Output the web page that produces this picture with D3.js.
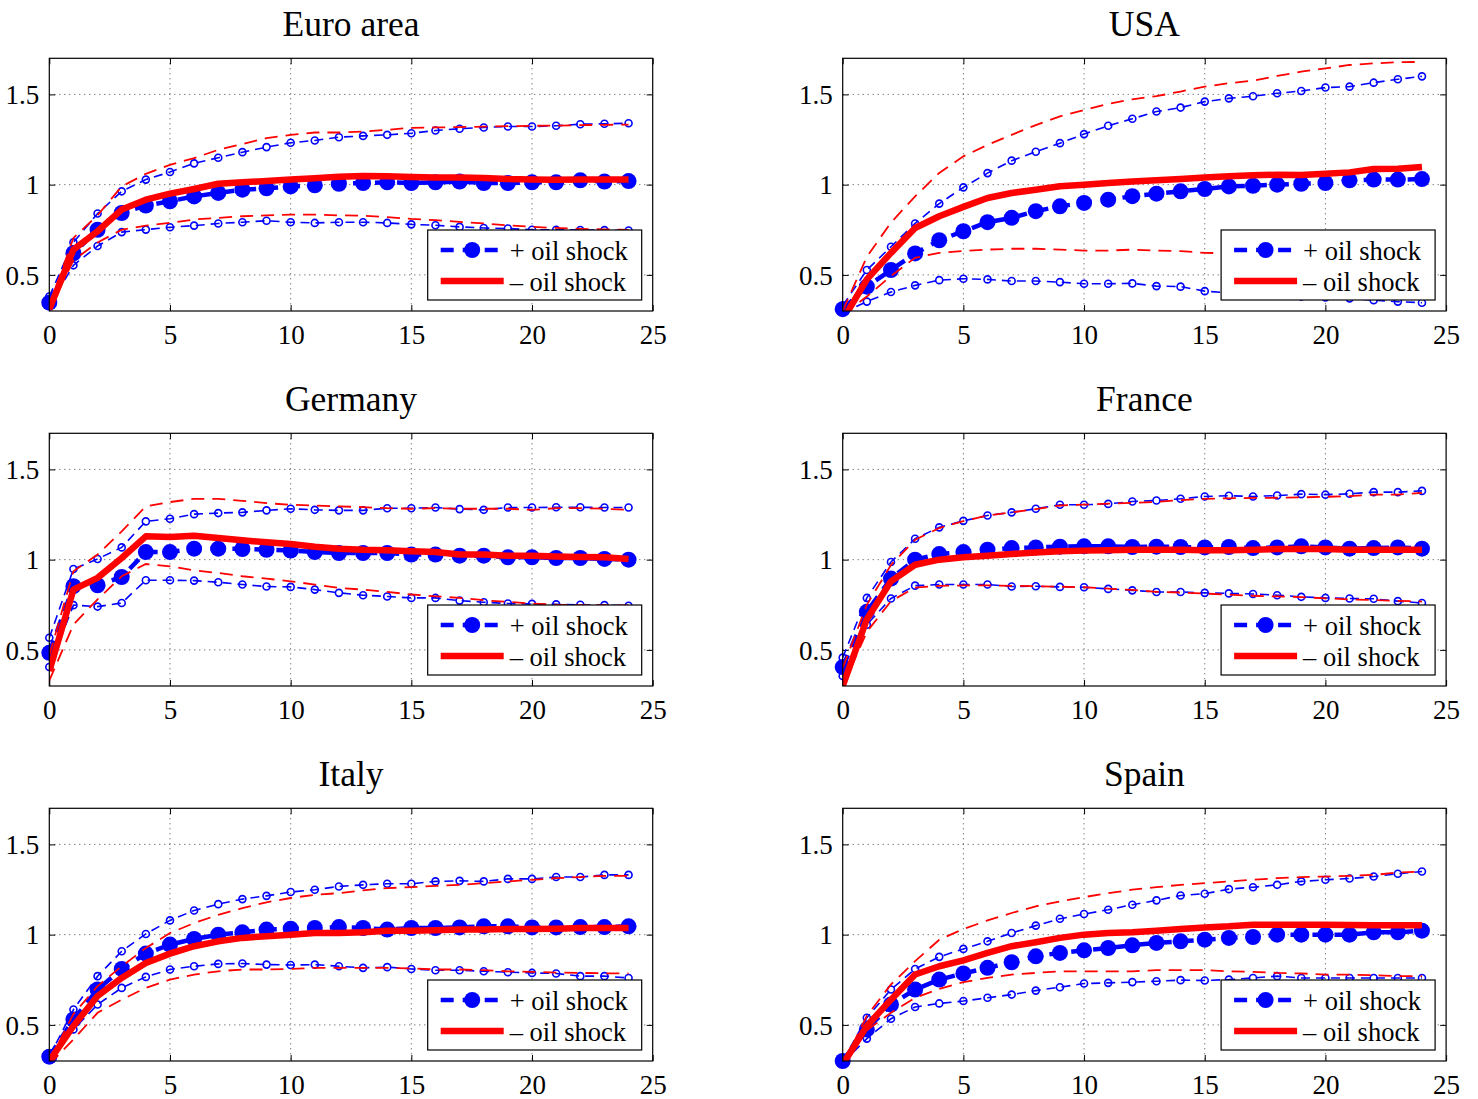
<!DOCTYPE html>
<html><head><meta charset="utf-8">
<script src="https://cdnjs.cloudflare.com/ajax/libs/d3/7.8.5/d3.min.js"></script>
<style>body{margin:0;background:#fff}svg{display:block}</style>
</head><body>
<script>
const horizon = [0,1,2,3,4,5,6,7,8,9,10,11,12,13,14,15,16,17,18,19,20,21,22,23,24];
const xTicks = [0,5,10,15,20,25];
const yTicks = [0.5,1,1.5];
const yTickLabels = ["0.5","1","1.5"];
const titles = ["Euro area","USA","Germany","France","Italy","Spain"];
const legendLabels = ["+ oil shock","\u2013 oil shock"];

// Euro area
const euroPosMid = [0.346,0.62,0.75,0.843,0.884,0.908,0.935,0.954,0.972,0.98,0.99,0.996,1.005,1.009,1.013,1.009,1.013,1.017,1.009,1.009,1.013,1.013,1.024,1.017,1.02];
const euroPosUp  = [0.38,0.68,0.84,0.963,1.028,1.07,1.118,1.149,1.18,1.208,1.232,1.245,1.263,1.27,1.276,1.285,1.30,1.31,1.317,1.322,1.322,1.326,1.335,1.337,1.34];
const euroPosLo  = [0.33,0.553,0.66,0.737,0.751,0.764,0.773,0.785,0.792,0.80,0.792,0.788,0.792,0.792,0.788,0.78,0.775,0.766,0.76,0.757,0.75,0.75,0.749,0.748,0.746];
const euroNegMid = [0.31,0.64,0.742,0.862,0.917,0.95,0.976,1.005,1.013,1.02,1.028,1.035,1.044,1.048,1.046,1.042,1.04,1.039,1.037,1.031,1.028,1.027,1.028,1.028,1.028];
const euroNegUp  = [0.33,0.705,0.83,0.99,1.06,1.11,1.147,1.193,1.225,1.258,1.276,1.289,1.289,1.294,1.304,1.315,1.317,1.319,1.321,1.324,1.326,1.327,1.33,1.331,1.333];
const euroNegLo  = [0.31,0.58,0.68,0.75,0.773,0.788,0.807,0.816,0.825,0.83,0.834,0.834,0.83,0.828,0.82,0.81,0.803,0.794,0.785,0.775,0.766,0.76,0.755,0.752,0.75];

// USA
const usaPosMid = [0.31,0.435,0.527,0.619,0.692,0.742,0.792,0.816,0.853,0.88,0.899,0.917,0.936,0.95,0.963,0.976,0.99,0.994,1.0,1.005,1.009,1.024,1.028,1.028,1.031];
const usaPosUp  = [0.33,0.527,0.656,0.785,0.895,0.985,1.064,1.133,1.182,1.23,1.28,1.326,1.365,1.405,1.427,1.46,1.478,1.49,1.506,1.519,1.538,1.543,1.565,1.584,1.60];
const usaPosLo  = [0.29,0.352,0.405,0.442,0.471,0.479,0.475,0.466,0.466,0.46,0.451,0.451,0.453,0.438,0.435,0.41,0.40,0.39,0.385,0.38,0.375,0.37,0.36,0.352,0.346];
const usaNegMid = [0.25,0.475,0.622,0.76,0.825,0.877,0.926,0.954,0.972,0.991,1.0,1.009,1.018,1.024,1.031,1.04,1.046,1.052,1.055,1.053,1.06,1.068,1.087,1.088,1.098];
const usaNegUp  = [0.30,0.60,0.79,0.935,1.065,1.157,1.22,1.276,1.33,1.378,1.414,1.447,1.473,1.49,1.516,1.543,1.562,1.576,1.602,1.626,1.644,1.663,1.672,1.678,1.68];
const usaNegLo  = [0.28,0.38,0.494,0.595,0.622,0.632,0.64,0.645,0.645,0.64,0.635,0.635,0.64,0.635,0.632,0.622,0.62,0.62,0.615,0.61,0.61,0.60,0.60,0.59,0.59];

// Germany
const gerPosMid = [0.484,0.853,0.858,0.904,1.042,1.042,1.061,1.061,1.059,1.055,1.05,1.042,1.037,1.037,1.037,1.028,1.028,1.022,1.022,1.013,1.013,1.009,1.009,1.004,1.0];
const gerPosUp  = [0.567,0.948,1.004,1.068,1.212,1.227,1.252,1.258,1.262,1.273,1.282,1.276,1.273,1.273,1.285,1.285,1.289,1.28,1.276,1.289,1.289,1.29,1.29,1.289,1.289];
const gerPosLo  = [0.405,0.748,0.74,0.76,0.886,0.886,0.884,0.875,0.862,0.851,0.849,0.834,0.816,0.803,0.796,0.788,0.788,0.773,0.764,0.757,0.755,0.752,0.75,0.748,0.745];
const gerNegMid = [0.383,0.834,0.899,1.009,1.129,1.125,1.133,1.12,1.107,1.096,1.087,1.072,1.061,1.055,1.052,1.046,1.042,1.028,1.028,1.022,1.022,1.018,1.015,1.013,1.004];
const gerNegUp  = [0.47,0.935,1.028,1.157,1.295,1.319,1.337,1.337,1.326,1.313,1.304,1.30,1.295,1.291,1.285,1.282,1.285,1.282,1.282,1.282,1.276,1.285,1.285,1.282,1.276];
const gerNegLo  = [0.33,0.64,0.78,0.908,0.976,0.963,0.941,0.926,0.908,0.895,0.88,0.862,0.843,0.834,0.821,0.807,0.797,0.788,0.775,0.766,0.757,0.751,0.748,0.748,0.746];

// France
const fraPosMid = [0.405,0.711,0.895,1.0,1.031,1.042,1.055,1.064,1.068,1.072,1.074,1.074,1.07,1.072,1.07,1.068,1.07,1.064,1.068,1.074,1.068,1.061,1.064,1.068,1.061];
const fraPosUp  = [0.457,0.788,0.987,1.116,1.179,1.215,1.245,1.262,1.282,1.304,1.304,1.309,1.322,1.328,1.337,1.35,1.354,1.35,1.355,1.363,1.36,1.365,1.374,1.374,1.381];
const fraPosLo  = [0.355,0.64,0.785,0.856,0.862,0.862,0.862,0.851,0.853,0.849,0.847,0.838,0.83,0.821,0.821,0.816,0.813,0.81,0.803,0.794,0.788,0.785,0.783,0.77,0.76];
const fraNegMid = [0.30,0.67,0.88,0.972,1.0,1.013,1.022,1.031,1.04,1.046,1.05,1.052,1.055,1.055,1.055,1.052,1.052,1.055,1.059,1.059,1.059,1.055,1.055,1.055,1.055];
const fraNegUp  = [0.40,0.75,0.97,1.11,1.175,1.213,1.245,1.262,1.28,1.30,1.305,1.31,1.315,1.32,1.33,1.337,1.34,1.342,1.343,1.345,1.348,1.352,1.36,1.36,1.37];
const fraNegLo  = [0.30,0.60,0.77,0.845,0.855,0.857,0.857,0.855,0.853,0.85,0.847,0.84,0.832,0.822,0.818,0.812,0.806,0.80,0.796,0.792,0.786,0.78,0.776,0.772,0.768];

// Italy
const itaPosMid = [0.324,0.53,0.696,0.81,0.895,0.945,0.976,1.0,1.013,1.028,1.033,1.037,1.042,1.037,1.028,1.037,1.037,1.04,1.046,1.046,1.04,1.04,1.042,1.042,1.046];
const itaPosUp  = [0.324,0.585,0.77,0.908,1.004,1.079,1.134,1.169,1.197,1.215,1.236,1.249,1.267,1.276,1.282,1.282,1.295,1.298,1.295,1.309,1.309,1.319,1.319,1.331,1.331];
const itaPosLo  = [0.31,0.475,0.613,0.705,0.766,0.807,0.825,0.838,0.84,0.834,0.832,0.834,0.825,0.816,0.82,0.81,0.803,0.803,0.797,0.792,0.788,0.785,0.77,0.77,0.76];
const itaNegMid = [0.30,0.494,0.66,0.76,0.843,0.895,0.936,0.963,0.982,0.991,1.0,1.009,1.009,1.013,1.022,1.022,1.024,1.028,1.028,1.031,1.031,1.033,1.037,1.037,1.037];
const itaNegUp  = [0.30,0.56,0.715,0.825,0.926,1.009,1.064,1.11,1.147,1.179,1.203,1.221,1.23,1.245,1.258,1.263,1.27,1.276,1.285,1.295,1.304,1.313,1.319,1.326,1.326];
const itaNegLo  = [0.28,0.42,0.567,0.64,0.705,0.751,0.779,0.797,0.807,0.807,0.81,0.816,0.816,0.816,0.816,0.813,0.807,0.807,0.803,0.797,0.794,0.79,0.788,0.786,0.785];

// Spain
const spaPosMid = [0.30,0.475,0.613,0.696,0.751,0.785,0.816,0.847,0.88,0.899,0.913,0.926,0.941,0.954,0.963,0.972,0.982,0.987,1.0,1.0,1.0,1.0,1.013,1.013,1.022];
const spaPosUp  = [0.30,0.54,0.696,0.81,0.877,0.921,0.963,1.009,1.05,1.088,1.114,1.138,1.166,1.19,1.217,1.227,1.252,1.263,1.276,1.295,1.304,1.311,1.322,1.337,1.35];
const spaPosLo  = [0.29,0.424,0.534,0.599,0.619,0.632,0.65,0.668,0.69,0.709,0.729,0.733,0.737,0.742,0.748,0.746,0.751,0.76,0.77,0.76,0.76,0.76,0.76,0.76,0.76];
const spaNegMid = [0.28,0.494,0.64,0.779,0.825,0.858,0.899,0.936,0.958,0.982,1.0,1.009,1.013,1.022,1.031,1.04,1.046,1.055,1.055,1.055,1.055,1.053,1.052,1.052,1.052];
const spaNegUp  = [0.28,0.55,0.724,0.853,0.972,1.031,1.079,1.12,1.157,1.184,1.208,1.23,1.249,1.263,1.276,1.285,1.295,1.304,1.313,1.319,1.322,1.326,1.331,1.344,1.35];
const spaNegLo  = [0.28,0.47,0.567,0.65,0.70,0.737,0.76,0.779,0.788,0.797,0.797,0.797,0.797,0.803,0.803,0.803,0.797,0.794,0.788,0.785,0.779,0.779,0.775,0.77,0.77];

const panels = [
  {title: titles[0], pos: [euroPosMid, euroPosUp, euroPosLo], neg: [euroNegMid, euroNegUp, euroNegLo]},
  {title: titles[1], pos: [usaPosMid, usaPosUp, usaPosLo], neg: [usaNegMid, usaNegUp, usaNegLo]},
  {title: titles[2], pos: [gerPosMid, gerPosUp, gerPosLo], neg: [gerNegMid, gerNegUp, gerNegLo]},
  {title: titles[3], pos: [fraPosMid, fraPosUp, fraPosLo], neg: [fraNegMid, fraNegUp, fraNegLo]},
  {title: titles[4], pos: [itaPosMid, itaPosUp, itaPosLo], neg: [itaNegMid, itaNegUp, itaNegLo]},
  {title: titles[5], pos: [spaPosMid, spaPosUp, spaPosLo], neg: [spaNegMid, spaNegUp, spaNegLo]}
];

const W = 1478, H = 1099;
const FONT = "'Liberation Serif','Times New Roman',serif";
const BLUE = "#0000ff", RED = "#ff0000";
const colLeft = [49.3, 842.7];
const rowTop = [58.3, 433.3, 808.3];
const pw = 603.4, ph = 252.7;

const svg = d3.select("body").append("svg").attr("width", W).attr("height", H)
  .style("font-family", FONT);

panels.forEach((p, i) => {
  const col = i % 2, row = Math.floor(i / 2);
  const ox = colLeft[col], oy = rowTop[row];
  const x = d3.scaleLinear().domain([0, 25]).range([0, pw]);
  const y = d3.scaleLinear().domain([0.3, 1.7]).range([ph, 0]);
  const g = svg.append("g").attr("transform", `translate(${ox},${oy})`);

  const clipId = "clip" + i;
  g.append("clipPath").attr("id", clipId).append("rect")
    .attr("x", 0).attr("y", 0).attr("width", pw).attr("height", ph);

  // grid
  const grid = g.append("g").attr("stroke", "#333").attr("stroke-width", 0.9)
    .attr("stroke-dasharray", "1,4");
  xTicks.slice(1, -1).forEach(t => grid.append("line")
    .attr("x1", x(t)).attr("x2", x(t)).attr("y1", 0).attr("y2", ph));
  yTicks.forEach(t => grid.append("line")
    .attr("x1", 0).attr("x2", pw).attr("y1", y(t)).attr("y2", y(t)));

  // axes (ticks inward, labels)
  const xAxis = d3.axisBottom(x).tickValues(xTicks).tickSizeInner(-6).tickSizeOuter(0).tickPadding(14);
  const yAxis = d3.axisLeft(y).tickValues(yTicks).tickFormat((d, k) => yTickLabels[k])
    .tickSizeInner(-6).tickSizeOuter(0).tickPadding(10);
  const xa = g.append("g").attr("transform", `translate(0,${ph})`).call(xAxis);
  const ya = g.append("g").call(yAxis);
  const xaTop = g.append("g").call(d3.axisTop(x).tickValues(xTicks).tickSizeInner(-6).tickSizeOuter(0).tickFormat(""));
  const yaRight = g.append("g").attr("transform", `translate(${pw},0)`)
    .call(d3.axisRight(y).tickValues(yTicks).tickSizeInner(-6).tickSizeOuter(0).tickFormat(""));
  [xa, ya, xaTop, yaRight].forEach(a => {
    a.select(".domain").remove();
    a.selectAll("line").attr("stroke", "#000");
    a.selectAll("text").attr("font-family", FONT).attr("font-size", 27).attr("fill", "#000");
  });
  xa.selectAll("text").attr("dy", "0.71em");
  ya.selectAll("text").attr("dy", "0.34em");

  const line = d3.line().x((d, k) => x(horizon[k])).y(d => y(d));
  const plot = g.append("g").attr("clip-path", `url(#${clipId})`);
  const marks = g.append("g");

  // + oil shock (blue)
  [p.pos[1], p.pos[2]].forEach(s => {
    plot.append("path").datum(s).attr("d", line).attr("fill", "none")
      .attr("stroke", BLUE).attr("stroke-width", 1.6).attr("stroke-dasharray", "9,6");
  });
  plot.append("path").datum(p.pos[0]).attr("d", line).attr("fill", "none")
    .attr("stroke", BLUE).attr("stroke-width", 4.5).attr("stroke-dasharray", "13,9");
  [p.pos[1], p.pos[2]].forEach(s => {
    marks.selectAll(null).data(s.map((v, k) => [horizon[k], v]).filter(d => d[1] >= 0.3 && d[1] <= 1.7))
      .join("circle").attr("cx", d => x(d[0])).attr("cy", d => y(d[1])).attr("r", 3.5)
      .attr("fill", "none").attr("stroke", BLUE).attr("stroke-width", 1.6);
  });
  marks.selectAll(null).data(p.pos[0].map((v, k) => [horizon[k], v]).filter(d => d[1] >= 0.3 && d[1] <= 1.7))
    .join("circle").attr("cx", d => x(d[0])).attr("cy", d => y(d[1])).attr("r", 8)
    .attr("fill", BLUE);

  // - oil shock (red)
  const redG = g.append("g").attr("clip-path", `url(#${clipId})`);
  [p.neg[1], p.neg[2]].forEach(s => {
    redG.append("path").datum(s).attr("d", line).attr("fill", "none")
      .attr("stroke", RED).attr("stroke-width", 1.8).attr("stroke-dasharray", "13,8");
  });
  redG.append("path").datum(p.neg[0]).attr("d", line).attr("fill", "none")
    .attr("stroke", RED).attr("stroke-width", 6.5).attr("stroke-linejoin", "round");

  // box
  g.append("rect").attr("x", 0).attr("y", 0).attr("width", pw).attr("height", ph)
    .attr("fill", "none").attr("stroke", "#000").attr("stroke-width", 1.2);

  // title
  g.append("text").attr("x", pw / 2).attr("y", -22).attr("text-anchor", "middle")
    .attr("font-size", 35.5).attr("fill", "#000").text(p.title);

  // legend
  const lw = 214, lh = 70;
  const lg = g.append("g").attr("transform", `translate(${pw - 11 - lw},${ph - 11 - lh})`);
  lg.append("rect").attr("width", lw).attr("height", lh).attr("fill", "#fff")
    .attr("stroke", "#000").attr("stroke-width", 1.2);
  lg.append("line").attr("x1", 13).attr("x2", 76).attr("y1", 20).attr("y2", 20)
    .attr("stroke", BLUE).attr("stroke-width", 4.5).attr("stroke-dasharray", "13,9");
  lg.append("circle").attr("cx", 44.5).attr("cy", 20).attr("r", 8).attr("fill", BLUE);
  lg.append("line").attr("x1", 13).attr("x2", 76).attr("y1", 51).attr("y2", 51)
    .attr("stroke", RED).attr("stroke-width", 6.5);
  lg.selectAll(null).data(legendLabels).join("text")
    .attr("x", 82).attr("y", (d, k) => 21 + 31 * k).attr("dy", "0.34em")
    .attr("font-size", 26.5).attr("fill", "#000").text(d => d);
});
</script>
</body></html>
